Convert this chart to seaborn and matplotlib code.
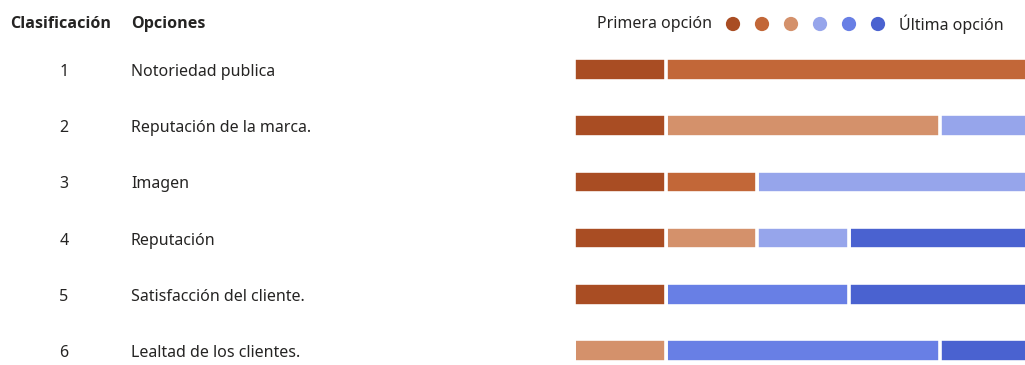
import numpy as np
import pandas as pd
import matplotlib
matplotlib.use("Agg")
import matplotlib.pyplot as plt
import matplotlib.transforms as mtransforms
import seaborn as sns

# ---- data ----
ranks = [1, 2, 3, 4, 5, 6]
options = ["Notoriedad publica", "Reputación de la marca.", "Imagen",
           "Reputación", "Satisfacción del cliente.", "Lealtad de los clientes."]
# counts of respondents per position (first .. last choice)
pos1 = [1, 1, 1, 1, 1, 0]
pos2 = [4, 0, 1, 0, 0, 0]
pos3 = [0, 3, 0, 1, 0, 1]
pos4 = [0, 1, 3, 1, 0, 0]
pos5 = [0, 0, 0, 0, 2, 3]
pos6 = [0, 0, 0, 2, 2, 1]
legend_left = "Primera opción"
legend_right = "Última opción"
header_rank = "Clasificación"
header_opt = "Opciones"

colors = ["#A94D23", "#C26738", "#D4916B", "#96A5EB", "#687FE5", "#4A62D0"]

sns.set_theme(style="white")
plt.rcParams['font.family'] = ['Noto Sans', 'DejaVu Sans']

W, H = 1025, 365
fig = plt.figure(figsize=(W / 100, H / 100), dpi=100)

x0 = 574
ax = fig.add_axes([x0 / W, 0, 1 - x0 / W, 1 - 41.4 / H])
series = [pos1, pos2, pos3, pos4, pos5, pos6]
cum = np.cumsum(np.array(series), axis=0)
df = pd.DataFrame({"option": options})
for k in range(len(series) - 1, -1, -1):
    df["cum"] = cum[k]
    sns.barplot(data=df, x="cum", y="option", orient="h", color=colors[k],
                edgecolor="white", linewidth=2.6, width=0.40, ax=ax,
                saturation=1, order=options)
ax.set_xlim(0, (W - x0) / 91.6)
ax.set_ylim(5.258, -0.5)
ax.set_axis_off()

tr = mtransforms.blended_transform_factory(fig.transFigure, ax.transData)
txtc = "#252423"
dy = 2.5 / 56.2
for i, (r, o) in enumerate(zip(ranks, options)):
    fig.text(64 / W, i + dy, str(r), transform=tr, ha="center", va="center",
             fontsize=11.5, color=txtc)
    fig.text(131 / W, i + dy, o, transform=tr, ha="left", va="center",
             fontsize=11.5, color=txtc)

hy = 1 - 24.5 / H
bold_fam = ['Open Sans', 'DejaVu Sans']
fig.text(10 / W, hy, header_rank, ha="left", va="center", fontsize=11.6,
         fontweight="bold", color=txtc, family=bold_fam)
fig.text(131 / W, hy, header_opt, ha="left", va="center", fontsize=11.6,
         fontweight="bold", color=txtc, family=bold_fam)

# legend
lax = fig.add_axes([0, 0, 1, 1])
lax.set_xlim(0, W)
lax.set_ylim(H, 0)
lax.set_axis_off()
cx = [733, 762, 791, 820, 849, 878]
lax.scatter(cx, [24] * 6, s=105, c=colors, linewidths=0)
lax.text(712, 24.5, legend_left, ha="right", va="center", fontsize=11.5, color=txtc)
lax.text(899, 24.5, legend_right, ha="left", va="center", fontsize=11.5, color=txtc)

fig.savefig("out.png", dpi=100)
